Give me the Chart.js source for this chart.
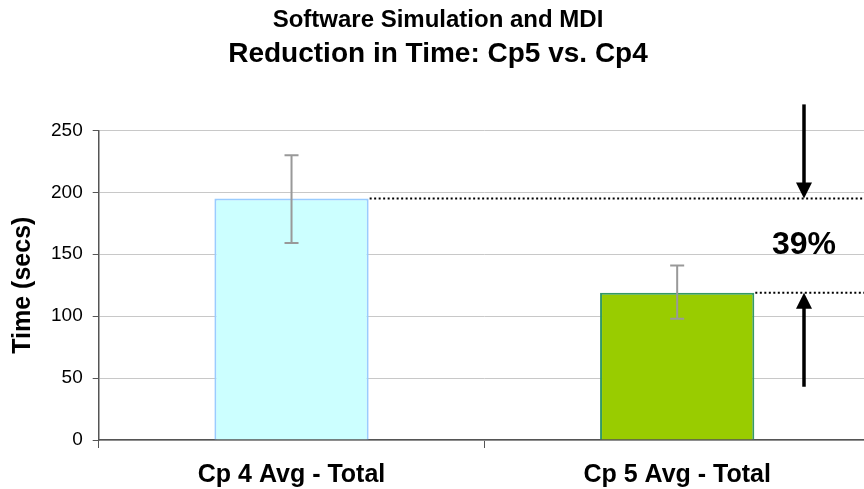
<!DOCTYPE html>
<html>
<head>
<meta charset="utf-8">
<script src="https://cdn.jsdelivr.net/npm/chart.js@4/dist/chart.umd.min.js"></script>
<style>
  html, body { margin: 0; padding: 0; background: #fff; overflow: hidden; }
</style>
</head>
<body>
<canvas id="myChart" width="870" height="502"></canvas>
<script>
"use strict";

// chart data
var categories = ["Cp 4 Avg - Total", "Cp 5 Avg - Total"];
var avgTime = [195, 119];
var errLow = [159, 98];
var errHigh = [230, 141];
var yTicks = [0, 50, 100, 150, 200, 250];
var arrowEnds = [271, 43];   // tails of the two arrows, in secs
var pctLabel = "39%";

var FONT = "'Liberation Sans', Arial, sans-serif";

// error bars, dotted guide lines, arrows and the percentage label
var extras = {
  id: "extras",
  afterDatasetsDraw: function (chart) {
    var ctx = chart.ctx;
    var y = chart.scales.y;
    var meta = chart.getDatasetMeta(0);
    var area = chart.chartArea;

    ctx.save();
    // error bars
    ctx.strokeStyle = "#999999";
    ctx.lineWidth = 2;
    meta.data.forEach(function (bar, i) {
      var yl = y.getPixelForValue(errLow[i]);
      var yh = y.getPixelForValue(errHigh[i]);
      ctx.beginPath();
      ctx.moveTo(bar.x, yl); ctx.lineTo(bar.x, yh);
      ctx.moveTo(bar.x - 7, yl); ctx.lineTo(bar.x + 7, yl);
      ctx.moveTo(bar.x - 7, yh); ctx.lineTo(bar.x + 7, yh);
      ctx.stroke();
    });

    // dotted lines from bar tops
    ctx.strokeStyle = "#000";
    ctx.lineWidth = 2;
    ctx.setLineDash([2, 2.5]);
    meta.data.forEach(function (bar, i) {
      var py = y.getPixelForValue(avgTime[i]);
      ctx.beginPath();
      ctx.moveTo(bar.x + bar.width / 2 + 1, py);
      ctx.lineTo(chart.width, py);
      ctx.stroke();
    });
    ctx.setLineDash([]);

    // arrows
    var ax = area.right - 66;
    function arrow(fromV, toV) {
      var y0 = y.getPixelForValue(fromV);
      var y1 = y.getPixelForValue(toV);
      var dir = y1 > y0 ? 1 : -1;
      ctx.lineWidth = 3.5;
      ctx.beginPath();
      ctx.moveTo(ax, y0);
      ctx.lineTo(ax, y1 - dir * 14);
      ctx.stroke();
      ctx.beginPath();
      ctx.moveTo(ax, y1);
      ctx.lineTo(ax - 8, y1 - dir * 16);
      ctx.lineTo(ax + 8, y1 - dir * 16);
      ctx.closePath();
      ctx.fillStyle = "#000";
      ctx.fill();
    }
    arrow(arrowEnds[0], avgTime[0]);
    arrow(arrowEnds[1], avgTime[1]);

    // percentage text
    ctx.fillStyle = "#000";
    ctx.font = "bold 32px " + FONT;
    ctx.textAlign = "center";
    ctx.textBaseline = "middle";
    ctx.fillText(pctLabel, ax, y.getPixelForValue((avgTime[0] + avgTime[1]) / 2));
    ctx.restore();
  }
};

function draw() {
  new Chart(document.getElementById("myChart"), {
    type: "bar",
    data: {
      labels: categories,
      datasets: [
        {
          data: avgTime,
          backgroundColor: ["#CCFFFF", "#99CC00"],
          borderColor: ["#99CCFF", "#339966"],
          borderWidth: 2,
          categoryPercentage: 1,
          barPercentage: 0.4,
        },
      ],
    },
    options: {
      responsive: false,
      animation: false,
      layout: { padding: { left: 6, right: 0, top: 0, bottom: 0 } },
      plugins: {
        legend: { display: false },
        tooltip: { enabled: false },
        title: {
          display: true,
          text: "Software Simulation and MDI",
          color: "#000",
          font: { family: FONT, size: 24, weight: "bold" },
          padding: { top: 6, bottom: 3 },
        },
        subtitle: {
          display: true,
          text: "Reduction in Time: Cp5 vs. Cp4",
          color: "#000",
          font: { family: FONT, size: 28, weight: "bold" },
          padding: { top: 0, bottom: 59 },
        },
      },
      scales: {
        x: {
          grid: {
            offset: true,
            drawOnChartArea: false,
            drawTicks: true,
            tickLength: 8,
            color: "#555",
          },
          border: { color: "#555", width: 1.5 },
          ticks: {
            color: "#000",
            padding: 12,
            font: { family: FONT, size: 25, weight: "bold" },
          },
        },
        y: {
          min: 0,
          max: 250,
          afterBuildTicks: function (axis) {
            axis.ticks = yTicks.map(function (v) { return { value: v }; });
          },
          grid: { color: "#c8c8c8", tickLength: 6, tickColor: "#555" },
          border: { color: "#555", width: 1.5 },
          ticks: {
            color: "#000",
            padding: 10,
            font: { family: FONT, size: 19 },
          },
          title: {
            display: true,
            text: "Time (secs)",
            color: "#000",
            font: { family: FONT, size: 25, weight: "bold" },
            padding: { top: 2, bottom: 3 },
          },
        },
      },
    },
    plugins: [extras],
  });
}

document.addEventListener("DOMContentLoaded", draw);
</script>
</body>
</html>
